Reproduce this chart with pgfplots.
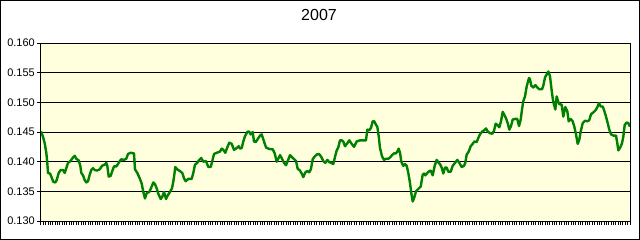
\documentclass[border=0pt]{standalone}
\usepackage{pgfplots}
\pgfplotsset{compat=1.18}
\usepackage{fontspec}
\setmainfont{Liberation Sans}
\definecolor{plotbg}{HTML}{FFFFDD}
\definecolor{linegreen}{HTML}{008000}
\begin{document}
\begin{tikzpicture}
\path[use as bounding box] (0,0) rectangle (640bp,240bp);
\draw[line width=1bp] (0.5bp,0.5bp) rectangle (639.5bp,239.5bp);
\begin{axis}[
  at={(41bp,19bp)}, anchor=south west,
  scale only axis, width=589bp, height=178bp,
  xmin=41, xmax=630, ymin=0.130, ymax=0.160,
  axis background/.style={fill=plotbg},
  axis line style={line width=1bp, black},
  xtick={41,43.356,...,630}, xticklabels={},
  ytick={0.130,0.135,0.140,0.145,0.150,0.155,0.160},
  ymajorgrids, major grid style={line width=1bp, black},
  tick align=outside, major tick length=4bp,
  xtick pos=bottom, ytick pos=left,
  tick style={line width=1bp, black},
  yticklabel style={/pgf/number format/fixed, /pgf/number format/fixed zerofill, /pgf/number format/precision=3, /pgf/number format/assume math mode=true},
  yticklabel style={font=\fontsize{11bp}{12bp}\selectfont, inner sep=0pt, xshift=-2bp},
  scaled y ticks=false,
  title={2007},
  title style={at={(0.472,1)}, anchor=base, yshift=16.5bp, inner sep=0pt, font=\fontsize{16bp}{18bp}\selectfont},
]
\addplot[linegreen, line width=2.4bp, line join=round] coordinates {
(41,0.1451) (43,0.1442) (44.7,0.1431) (46.3,0.1415) (47.3,0.1398) (48,0.1381) (50,0.1380) (51.3,0.1375)
(53.3,0.1366) (55.3,0.1365) (56.7,0.1369) (58.7,0.1381) (60.7,0.1386) (63,0.1386) (64.7,0.1381) (66.3,0.1389)
(68,0.1398) (69.7,0.1400) (71.3,0.1403) (73,0.1407) (74.7,0.1410) (76.3,0.1405) (78.7,0.1402) (80.3,0.1393)
(81.3,0.1381) (83,0.1377) (84.7,0.1369) (86.3,0.1365) (88,0.1367) (89.7,0.1378) (91.3,0.1386) (93,0.1389)
(94.7,0.1386) (97,0.1385) (99.7,0.1387) (102,0.1393) (104.7,0.1395) (106.3,0.1398) (107.3,0.1393) (108.7,0.1375)
(110.7,0.1376) (112,0.1383) (114,0.1392) (116.3,0.1392) (118,0.1396) (119.7,0.1401) (121.3,0.1404) (124,0.1403)
(126.3,0.1405) (128,0.1413) (130.7,0.1415) (134,0.1414) (135,0.1387) (137.3,0.1381) (139.7,0.1372)
(141.7,0.1363) (143.3,0.1349) (145,0.1338) (146.7,0.1347) (149.3,0.1349) (151.7,0.1358) (153.3,0.1365) (155,0.1362)
(156.7,0.1355) (158.3,0.1346) (160.7,0.1337) (162.3,0.1341) (164,0.1349) (166,0.1337) (167.7,0.1343) (170,0.1349)
(172,0.1355) (173.3,0.1366) (174.3,0.1378) (175.3,0.1391) (177.3,0.1387) (180,0.1384) (182.3,0.1381) (184,0.1372)
(185.7,0.1367) (188.3,0.1371) (191.7,0.1371) (193.3,0.1381) (195,0.1395) (197.3,0.1398) (199.3,0.1403) (201.3,0.1406)
(203.3,0.1400) (206,0.1401) (208.3,0.1391) (210.7,0.1391) (212.3,0.1401) (214,0.1413) (216.7,0.1415) (220,0.1417)
(221.7,0.1422) (223.3,0.1420) (225.3,0.1415) (227.3,0.1424) (229.3,0.1432) (231.7,0.1430) (234,0.1420) (236,0.1422)
(238.7,0.1426) (240,0.1422) (241.7,0.1423) (243.3,0.1434) (245,0.1443) (247.3,0.1450) (249,0.1451) (250.7,0.1446)
(252.7,0.1450) (254,0.1434) (255.7,0.1433) (257.7,0.1438) (260,0.1444) (261.7,0.1446) (264,0.1434) (266,0.1424)
(268.3,0.1422) (270.7,0.1421) (272.7,0.1421) (274.7,0.1414) (276.7,0.1400) (278.3,0.1405) (280,0.1411) (282,0.1405)
(284,0.1398) (286,0.1394) (287.7,0.1401) (290,0.1411) (292.3,0.1407) (294.3,0.1404) (296,0.1401) (297.7,0.1388)
(300,0.1385) (301.7,0.1380) (303.3,0.1374) (305.3,0.1382) (307.3,0.1384) (309.3,0.1382) (311,0.1388) (312.7,0.1404)
(314.3,0.1408) (316.7,0.1412) (319,0.1413) (321.3,0.1408) (323.3,0.1401) (325.3,0.1398) (327.3,0.1403) (329.3,0.1399)
(331.3,0.1398) (333.3,0.1396) (335,0.1408) (336.7,0.1419) (338.3,0.1424)
(340,0.1436) (341.7,0.1436) (343.3,0.1434) (345,0.1426) (347.3,0.1431) (349.3,0.1436) (351.7,0.1430) (354,0.1425)
(356.7,0.1434) (360,0.1436) (363.3,0.1436) (366,0.1436) (367.3,0.1454) (369.3,0.1453) (371,0.1457) (372.7,0.1468)
(374.3,0.1468) (376,0.1462) (377.3,0.1459) (378.7,0.1443) (380,0.1423) (382,0.1409) (384,0.1403) (386,0.1405)
(388.3,0.1405) (390,0.1407) (392,0.1411) (394,0.1414) (396,0.1414) (397.3,0.1417) (398.7,0.1422) (400,0.1415)
(401.3,0.1400) (403.3,0.1393) (405,0.1396) (406.7,0.1393) (408.3,0.1381) (410,0.1364) (411.3,0.1347) (412.7,0.1333)
(414,0.1338) (416,0.1350) (418.3,0.1354) (420.7,0.1358) (422.7,0.1378) (424,0.1380) (425.3,0.1377) (427.3,0.1381)
(429.3,0.1384) (430.7,0.1385) (432.7,0.1377) (434.7,0.1393) (436.7,0.1403) (438.7,0.1398)
(440,0.1396) (441.7,0.1390) (443.3,0.1380) (445,0.1390) (446.7,0.1390) (448.3,0.1383) (450.7,0.1383) (452.7,0.1393)
(455,0.1398) (457.3,0.1403) (459.3,0.1398) (461.7,0.1391) (464,0.1393) (465.3,0.1398) (466.7,0.1412) (468.7,0.1417)
(470.7,0.1426) (472.7,0.1430) (474.3,0.1434) (476.7,0.1433) (478.3,0.1440) (480,0.1446) (482.3,0.1451) (484.3,0.1453)
(486,0.1456) (487.7,0.1451) (490,0.1448) (492.3,0.1447) (494,0.1452) (495.7,0.1464) (497.3,0.1462) (499.3,0.1458)
(501,0.1468) (502.7,0.1484) (504.3,0.1479) (506,0.1473) (507.7,0.1465) (509.3,0.1454) (511,0.1460) (512.7,0.1471)
(515,0.1472) (517.3,0.1472) (519,0.1460) (520.7,0.1471) (522,0.1488) (523.3,0.1502) (525,0.1510) (526.7,0.1527)
(528,0.1535) (529,0.1541)
(530,0.1539) (531.3,0.1528) (533.3,0.1525) (535.3,0.1529) (537.3,0.1525) (539.3,0.1522) (542,0.1522) (543.3,0.1528)
(545,0.1542) (546.7,0.1547) (548.3,0.1552) (550,0.1544) (551.3,0.1525) (552.7,0.1507) (554,0.1496) (555.3,0.1488)
(556.7,0.1510) (558,0.1502) (559.3,0.1497) (561.7,0.1496) (563.3,0.1476) (565.3,0.1492) (567.3,0.1485) (568.7,0.1468)
(570.7,0.1472) (572.7,0.1468) (574.3,0.1459) (576,0.1446) (577.7,0.1430) (579.3,0.1437) (580.7,0.1451) (582.7,0.1465)
(585,0.1469) (587.3,0.1468) (589.3,0.1470) (591,0.1480) (593.3,0.1483) (595.7,0.1487) (597.7,0.1493) (599,0.1499)
(600.7,0.1493) (602.7,0.1493) (604,0.1487) (606,0.1476) (607.7,0.1465) (609.3,0.1454) (611,0.1446) (613.3,0.1444)
(616,0.1444) (617.3,0.1431) (618.3,0.1419) (620,0.1423) (622,0.1431) (623.3,0.1442) (624.7,0.1462) (626.7,0.1466)
(628.3,0.1465) (630,0.1459)
};
\end{axis}
\end{tikzpicture}
\end{document}
